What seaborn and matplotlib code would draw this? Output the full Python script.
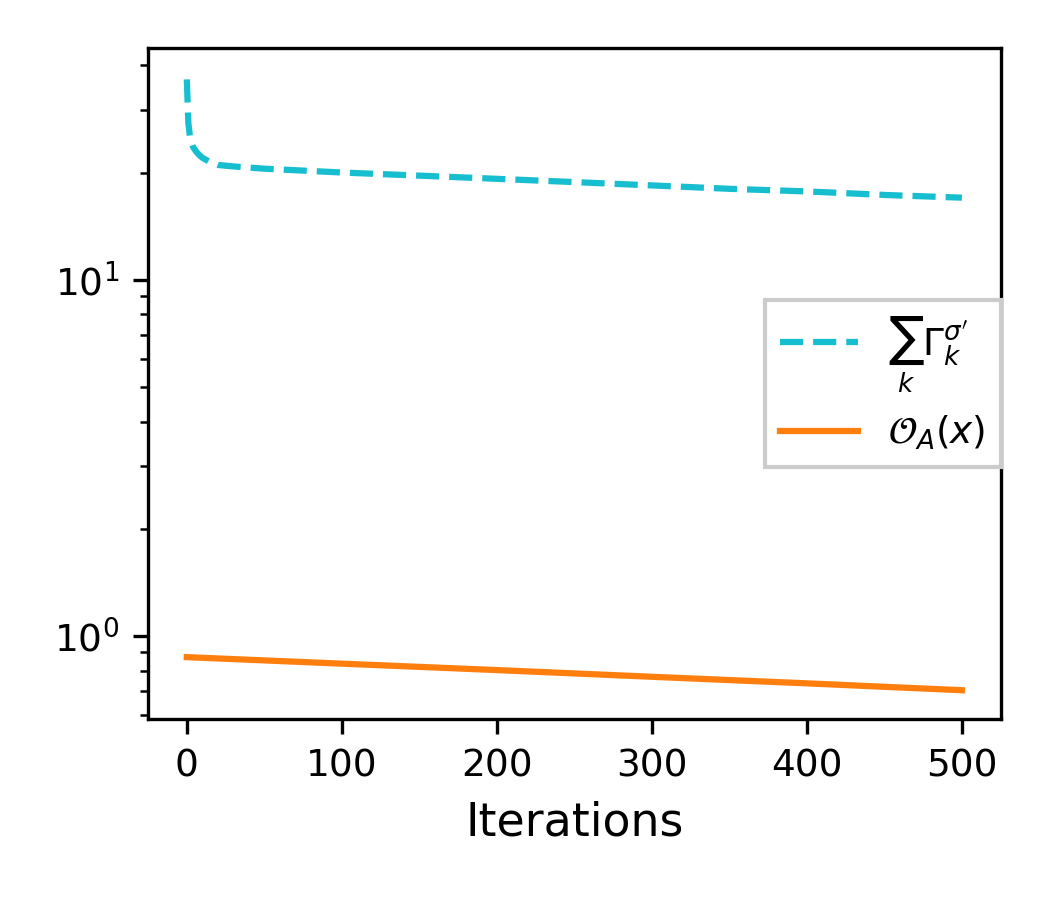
import numpy as np
import pandas as pd
import matplotlib
matplotlib.use("Agg")
import matplotlib.pyplot as plt
import seaborn as sns

# values
gamma_iters = [0, 1, 2, 3, 4, 6, 8, 10, 15, 20, 30, 50, 100, 150, 200, 250, 300, 350, 400, 450, 500]
gamma_sum = [36.5, 27.5, 25.3, 24.3, 23.6, 22.9, 22.4, 22.0, 21.4, 21.0, 20.8, 20.5, 20.0,
             19.6, 19.2, 18.8, 18.4, 18.0, 17.7, 17.3, 17.0]

obj_iters = [0, 100, 200, 300, 400, 500]
obj_vals = [0.873, 0.837, 0.803, 0.769, 0.737, 0.705]

label_gamma = r"$\sum_k \Gamma_k^{\sigma'}$"
label_obj = r"$\mathcal{O}_A(x)$"

fig = plt.figure(figsize=(3.5, 3.0), dpi=300)
ax = fig.add_axes([0.141, 0.201, 0.812, 0.746])

sns.lineplot(x=gamma_iters, y=gamma_sum, ax=ax, color="#17becf", linestyle="--",
             linewidth=1.5, label=label_gamma)
sns.lineplot(x=obj_iters, y=obj_vals, ax=ax, color="#ff7f0e", linewidth=1.5, label=label_obj)

ax.set_yscale("log")
ax.set_ylim(0.585, 44.8)
ax.set_xlim(-25, 525)
ax.set_xticks([0, 100, 200, 300, 400, 500])
ax.tick_params(labelsize=9)
ax.set_xlabel("Iterations", fontsize=11)
ax.set_ylabel("")

leg = ax.legend(loc="center right", borderaxespad=0, fancybox=False, fontsize=9,
                framealpha=1, edgecolor="0.8", handlelength=2.1)

fig.savefig("out.png", dpi=300)
